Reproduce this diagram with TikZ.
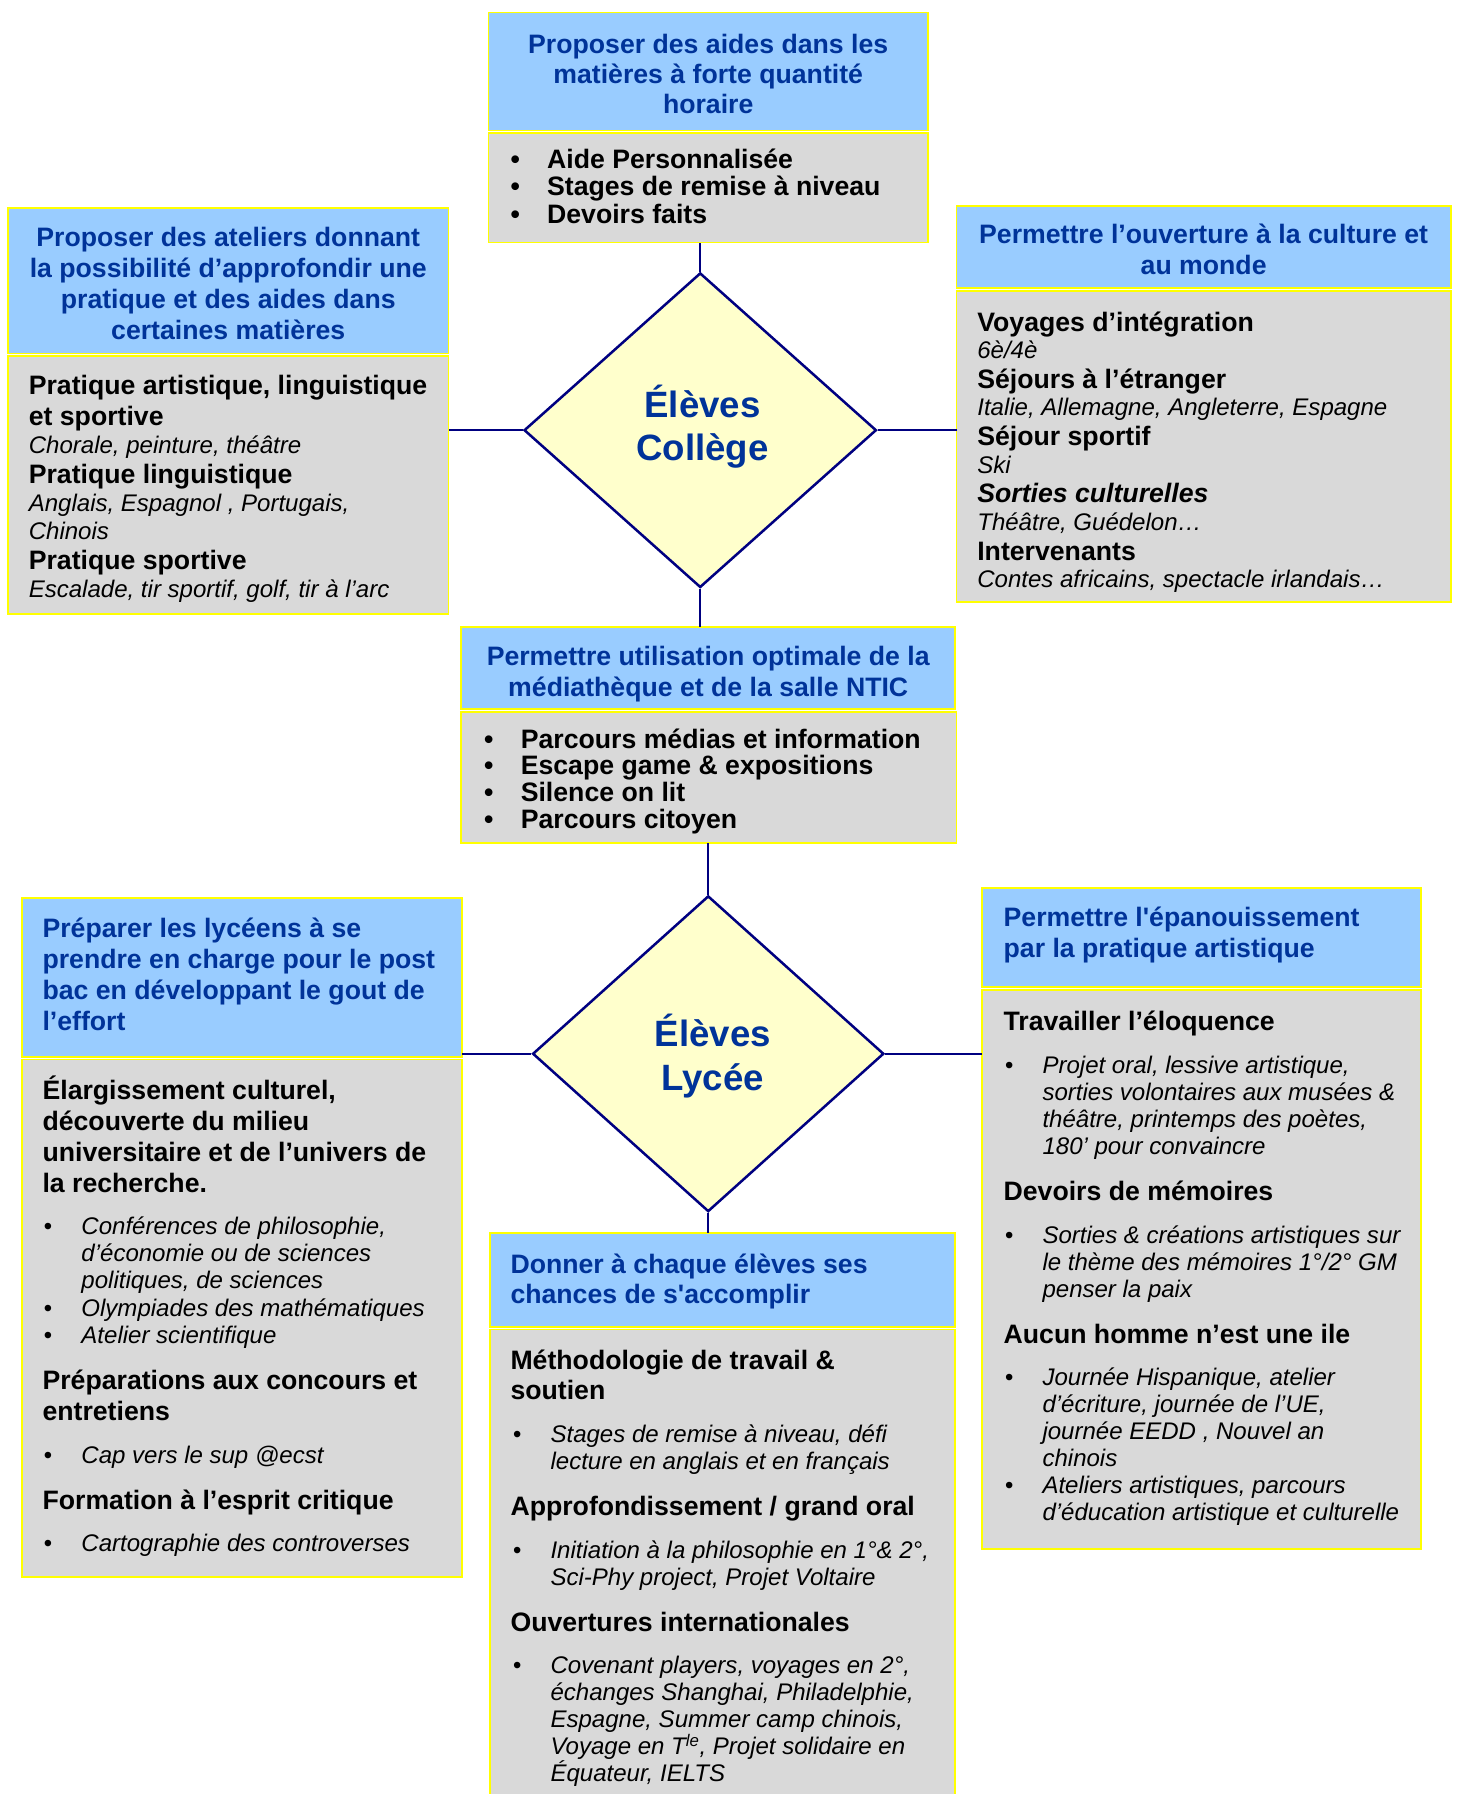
\documentclass[tikz,border=0pt]{standalone}
\usepackage{fontspec}
\newfontfamily\arial{Liberation Sans}
\usetikzlibrary{shapes.geometric}

\definecolor{titrebleu}{HTML}{99CCFF}
\definecolor{fondgris}{HTML}{D9D9D9}
\definecolor{cadrejaune}{HTML}{FFFF00}
\definecolor{encre}{HTML}{003399}
\definecolor{marine}{HTML}{000080}
\definecolor{losangefond}{HTML}{FFFFCC}

\newlength\pind
\newlength\pgap
\newcommand\puce[1]{\par\hangindent=\pind\hangafter=1\noindent\makebox[\pind][l]{\hspace{\pgap}•}#1\par}
\newcommand\corpsgras[1]{\fontsize{23.3}{#1}\selectfont\bfseries\upshape}
\newcommand\corpsital[1]{\fontsize{21}{#1}\selectfont\mdseries\itshape}
\newcommand\saut{\vspace{13.5pt}}

\tikzset{
  titlebox/.style={draw=cadrejaune, line width=1.6pt, fill=titrebleu, inner sep=0pt, outer sep=0pt, anchor=north west},
  bodybox/.style={draw=cadrejaune, line width=1.6pt, fill=fondgris, inner sep=0pt, outer sep=0pt, anchor=north west},
  titletext/.style={inner sep=0pt, text=encre, font=\arial\fontsize{23.3}{27}\selectfont\bfseries},
  bodytext/.style={inner sep=0pt, anchor=base west, font=\arial},
  losange/.style={diamond, draw=marine, line width=2.2pt, fill=losangefond, inner sep=0pt},
  losangetext/.style={inner sep=0pt, text=encre, align=center, font=\arial\fontsize{32}{38}\selectfont\bfseries},
  lien/.style={draw=marine, line width=2.2pt},
}

\begin{document}
\begin{tikzpicture}[x=1pt, y=-1pt]
			%%%%% START %%%%%
			\useasboundingbox (0,0) rectangle (1272.6,1568);
			
			% boites du haut (college)
			\node[titlebox, minimum width=384pt, minimum height=103pt] (aidesT) at (427,11) {};
			\node[bodybox, minimum width=384pt, minimum height=96pt] (aidesB) at (427,116) {};
			\node[titlebox, minimum width=385pt, minimum height=127pt] (atelT) at (7,182) {};
			\node[bodybox, minimum width=385pt, minimum height=226pt] (atelB) at (7,311) {};
			\node[titlebox, minimum width=432pt, minimum height=72pt] (mondeT) at (836,180) {};
			\node[bodybox, minimum width=432pt, minimum height=272pt] (mondeB) at (836,254) {};
			\node[titlebox, minimum width=432pt, minimum height=72pt] (nticT) at (403,548) {};
			\node[bodybox, minimum width=433pt, minimum height=115pt] (nticB) at (403,622) {};
			
			% boites du bas (lycee)
			\node[titlebox, minimum width=385pt, minimum height=139pt] (effortT) at (19,785) {};
			\node[bodybox, minimum width=385pt, minimum height=452pt] (effortB) at (19,926) {};
			\node[titlebox, minimum width=384pt, minimum height=87pt] (artT) at (858,776) {};
			\node[bodybox, minimum width=384pt, minimum height=489pt] (artB) at (858,865) {};
			\node[titlebox, minimum width=407pt, minimum height=82pt] (chancesT) at (428,1078) {};
			\node[bodybox, minimum width=407pt, minimum height=440pt] (chancesB) at (428,1162) {};
			
			% titres
			\node[titletext, align=center, font=\arial\fontsize{23.3}{26.5}\selectfont\bfseries] (aidesTt) at ([yshift=-2pt]aidesT.center) {Proposer des aides dans les\\matières à forte quantité\\horaire};
			\node[titletext, align=center] (atelTt) at ([yshift=-2pt]atelT.center) {Proposer des ateliers donnant\\la possibilité d’approfondir une\\pratique et des aides dans\\certaines matières};
			\node[titletext, align=center] (mondeTt) at ([yshift=-2pt]mondeT.center) {Permettre l’ouverture à la culture et\\au monde};
			\node[titletext, align=center] (nticTt) at ([yshift=-5pt]nticT.center) {Permettre utilisation optimale de la\\médiathèque et de la salle NTIC};
			\node[titletext, align=left, anchor=west] (effortTt) at ([xshift=18pt, yshift=3pt]effortT.west) {Préparer les lycéens à se\\prendre en charge pour le post\\bac en développant le gout de\\l’effort};
			\node[titletext, align=left, anchor=west] (artTt) at ([xshift=19pt, yshift=2pt]artT.west) {Permettre l'épanouissement\\par la pratique artistique};
			\node[titletext, align=left, anchor=west] (chancesTt) at ([xshift=18pt, yshift=-1pt]chancesT.west) {Donner à chaque élèves ses\\chances de s'accomplir};
			
			% contenus
			\node[bodytext] (aidesBt) at (446,147) {\parbox[t]{360pt}{\setlength\pind{32pt}\setlength\pgap{0pt}\corpsgras{24pt}%
				\puce{Aide Personnalisée}\puce{Stages de remise à niveau}\puce{Devoirs faits}}};
			
			\node[bodytext] (atelBt) at (25,345) {\parbox[t]{380pt}{%
				\corpsgras{26.8pt}Pratique artistique, linguistique\newline et sportive\par
				\corpsital{24.2pt}Chorale, peinture, théâtre\par
				\corpsgras{26.8pt}Pratique linguistique\par
				\corpsital{24.2pt}Anglais, Espagnol , Portugais,\newline Chinois\par
				\corpsgras{26.8pt}Pratique sportive\par
				\corpsital{24.2pt}Escalade, tir sportif, golf, tir à l’arc\par}};
			
			\node[bodytext] (mondeBt) at (854,289.5) {\parbox[t]{410pt}{%
				\corpsgras{26pt}Voyages d’intégration\par
				\corpsital{24pt}6è/4è\par
				\corpsgras{26pt}Séjours à l’étranger\par
				\corpsital{24pt}Italie, Allemagne, Angleterre, Espagne\par
				\corpsgras{26pt}Séjour sportif\par
				\corpsital{24pt}Ski\par
				\corpsgras{26pt}\itshape Sorties culturelles\par
				\corpsital{24pt}Théâtre, Guédelon…\par
				\corpsgras{26pt}Intervenants\par
				\corpsital{24pt}Contes africains, spectacle irlandais…\par}};
			
			\node[bodytext] (nticBt) at (423,654) {\parbox[t]{400pt}{\setlength\pind{32pt}\setlength\pgap{0pt}\corpsgras{23.3pt}%
				\puce{Parcours médias et information}\puce{Escape game \& expositions}\puce{Silence on lit}\puce{Parcours citoyen}}};
			
			\node[bodytext] (effortBt) at (37,961) {\parbox[t]{380pt}{\setlength\pind{34pt}\setlength\pgap{1pt}%
				\corpsgras{27pt}Élargissement culturel,\newline découverte du milieu\newline universitaire et de l’univers de\newline la recherche.\par\saut
				\corpsital{23.7pt}\puce{Conférences de philosophie,\newline d’économie ou de sciences\newline politiques, de sciences}\puce{Olympiades des mathématiques}\puce{Atelier scientifique}\saut
				\corpsgras{27pt}Préparations aux concours et\newline entretiens\par\saut
				\corpsital{23.7pt}\puce{Cap vers le sup @ecst}\saut
				\corpsgras{27pt}Formation à l’esprit critique\par\saut
				\corpsital{23.7pt}\puce{Cartographie des controverses}}};
			
			\node[bodytext] (artBt) at (877,901) {\parbox[t]{370pt}{\setlength\pind{34pt}\setlength\pgap{1pt}%
				\corpsgras{27pt}Travailler l’éloquence\par\saut
				\corpsital{23.6pt}\puce{Projet oral, lessive artistique,\newline sorties volontaires aux musées \&\newline théâtre, printemps des poètes,\newline 180’ pour convaincre}\saut
				\corpsgras{27pt}Devoirs de mémoires\par\saut
				\corpsital{23.6pt}\puce{Sorties \& créations artistiques sur\newline le thème des mémoires 1°/2° GM\newline penser la paix}\saut
				\corpsgras{27pt}Aucun homme n’est une ile\par\saut
				\corpsital{23.6pt}\puce{Journée Hispanique, atelier\newline d’écriture, journée de l’UE,\newline journée EEDD , Nouvel an\newline chinois}\puce{Ateliers artistiques, parcours\newline d’éducation artistique et culturelle}}};
			
			\node[bodytext] (chancesBt) at (446,1197) {\parbox[t]{400pt}{\setlength\pind{35pt}\setlength\pgap{2pt}%
				\corpsgras{26.5pt}Méthodologie de travail \&\newline soutien\par\saut
				\corpsital{23.6pt}\puce{Stages de remise à niveau, défi\newline lecture en anglais et en français}\saut
				\corpsgras{27pt}Approfondissement / grand oral\par\saut
				\corpsital{23.6pt}\puce{Initiation à la philosophie en 1°\& 2°,\newline Sci-Phy project, Projet Voltaire}\saut
				\corpsgras{27pt}Ouvertures internationales\par\saut
				\corpsital{23.6pt}\puce{Covenant players, voyages en 2°,\newline échanges Shanghai, Philadelphie,\newline Espagne, Summer camp chinois,\newline Voyage en T\textsuperscript{le}, Projet solidaire en\newline Équateur, IELTS}}};
			
			% losanges
			\node[losange, minimum width=308pt, minimum height=275pt] (college) at (612,376) {};
			\node[losange, minimum width=307pt, minimum height=276pt] (lycee) at (619,921) {};
			\node[losangetext] (collegeTt) at (614,373) {Élèves\\Collège};
			\node[losangetext] (lyceeTt) at (623,923) {Élèves\\Lycée};
			
			% liaisons
			\draw[lien] (college.north) -- (college.north |- aidesB.south);
			\draw[lien] (college.south) -- (college.south |- nticT.north);
			\draw[lien] (college.west) -- (college.west -| atelB.east);
			\draw[lien] (college.east) -- (college.east -| mondeB.west);
			\draw[lien] (lycee.north |- nticB.south) -- (lycee.north);
			\draw[lien] (lycee.west) -- (lycee.west -| effortT.east);
			\draw[lien] (lycee.east) -- (lycee.east -| artB.west);
			\draw[lien] (lycee.south) -- (lycee.south |- chancesT.north);
			
			%%%%% END %%%%%
\end{tikzpicture}
\end{document}
